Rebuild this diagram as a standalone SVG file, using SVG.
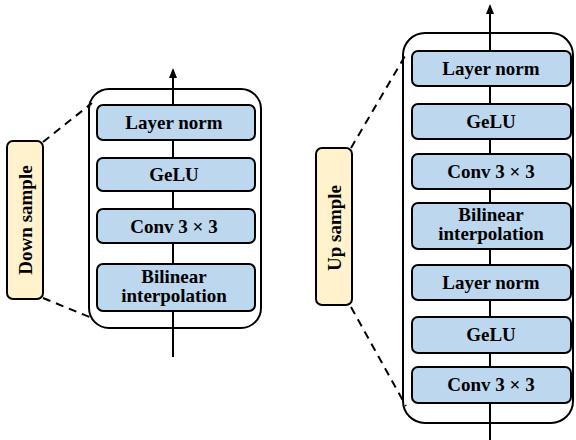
<svg xmlns="http://www.w3.org/2000/svg" width="576" height="440" viewBox="0 0 576 440">
<style>
.outer{fill:#fff;stroke:#000;stroke-width:2}
.blk{fill:#BDD7EE;stroke:#000;stroke-width:2}
.tab{fill:#FFF2CC;stroke:#000;stroke-width:2}
.flow{stroke:#000;stroke-width:2;fill:none}
.dash{stroke:#000;stroke-width:2;fill:none;stroke-dasharray:8 6}
text{font-family:"Liberation Serif","Times New Roman",serif;font-weight:bold;font-size:19px;text-anchor:middle;fill:#000}
</style>
<defs>
<marker id="ah" markerWidth="10" markerHeight="10" refX="8" refY="5" orient="auto" markerUnits="userSpaceOnUse">
<path d="M0,1 L10,5 L0,9 Z" fill="#000"/>
</marker>
</defs>
<g id="down-container"><rect class="outer" x="89" y="89" width="172" height="239" rx="20"/></g>
<g id="up-container"><rect class="outer" x="403" y="33" width="170" height="390" rx="22"/></g>
<g id="connectors">
<line class="flow" x1="173" y1="357" x2="173" y2="70" marker-end="url(#ah)"/>
<line class="flow" x1="490" y1="440" x2="490" y2="6" marker-end="url(#ah)"/>
<line class="dash" x1="43" y1="142" x2="92" y2="103"/>
<line class="dash" x1="43" y1="298" x2="92" y2="318"/>
<line class="dash" x1="351" y1="148" x2="405" y2="56"/>
<line class="dash" x1="351" y1="307" x2="406" y2="406"/>
</g>
<g id="down-tab"><rect class="tab" x="7" y="141" width="36" height="158" rx="6"/><text transform="translate(32,220) rotate(-90)">Down sample</text></g>
<g id="up-tab"><rect class="tab" x="316" y="148" width="36" height="157" rx="6"/><text transform="translate(341,228) rotate(-90)">Up sample</text></g>
<g id="d-layernorm"><rect class="blk" x="97" y="105" width="158" height="35" rx="6"/><text x="174" y="129">Layer norm</text></g>
<g id="d-gelu"><rect class="blk" x="97" y="158" width="158" height="33" rx="6"/><text x="174" y="181">GeLU</text></g>
<g id="d-conv"><rect class="blk" x="97" y="209" width="158" height="34" rx="6"/><text x="174" y="233">Conv 3 × 3</text></g>
<g id="d-bilinear"><rect class="blk" x="97" y="264" width="158" height="47" rx="6"/><text x="174" y="283">Bilinear</text><text x="174" y="302">interpolation</text></g>
<g id="u-layernorm1"><rect class="blk" x="412" y="51" width="159" height="35" rx="6"/><text x="491" y="75">Layer norm</text></g>
<g id="u-gelu1"><rect class="blk" x="412" y="104" width="159" height="35" rx="6"/><text x="491" y="128">GeLU</text></g>
<g id="u-conv1"><rect class="blk" x="412" y="154" width="159" height="35" rx="6"/><text x="491" y="178">Conv 3 × 3</text></g>
<g id="u-bilinear"><rect class="blk" x="412" y="203" width="159" height="46" rx="6"/><text x="491" y="221">Bilinear</text><text x="491" y="240">interpolation</text></g>
<g id="u-layernorm2"><rect class="blk" x="412" y="265" width="159" height="35" rx="6"/><text x="491" y="289">Layer norm</text></g>
<g id="u-gelu2"><rect class="blk" x="412" y="317" width="159" height="36" rx="6"/><text x="491" y="341">GeLU</text></g>
<g id="u-conv2"><rect class="blk" x="412" y="367" width="159" height="36" rx="6"/><text x="491" y="391">Conv 3 × 3</text></g>
</svg>
